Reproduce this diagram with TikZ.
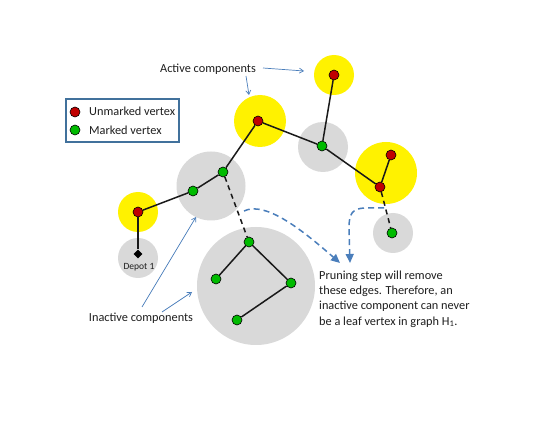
\documentclass[tikz,border=0pt]{standalone}
\usepackage{fontspec}
\setmainfont{Carlito}
\usetikzlibrary{arrows.meta,shapes.geometric}
\definecolor{vred}{HTML}{C00000}
\definecolor{vgreen}{HTML}{00BB00}
\definecolor{compgray}{HTML}{D9D9D9}
\definecolor{callblue}{HTML}{4A7EBB}
\definecolor{legframe}{HTML}{41719C}
\definecolor{txt}{HTML}{1E1E1E}
\begin{document}
\begin{tikzpicture}[x=1pt,y=-1pt,
 active/.style={circle,fill=yellow,inner sep=0,minimum size=#1},
 inactive/.style={circle,fill=compgray,inner sep=0,minimum size=#1},
 unm/.style={circle,draw=black,line width=0.6pt,fill=vred,inner sep=0,minimum size=10pt},
 mkd/.style={circle,draw=black,line width=0.6pt,fill=vgreen,inner sep=0,minimum size=10pt},
 edgeline/.style={line width=1.5pt,black!90},
 cutline/.style={edgeline,dash pattern=on 5pt off 4pt},
 prune/.style={line width=1.5pt,callblue,dash pattern=on 6pt off 4pt,-{Triangle[length=9pt,width=8pt]}},
 callout/.style={line width=0.7pt,callblue,-{Straight Barb[length=4pt,width=5pt]}},
 lbl/.style={font=\fontsize{12.3}{15.3}\selectfont,text=txt,inner sep=0}
]
\useasboundingbox[fill=white] (0,0) rectangle (550,425);

% components
\node[active=40pt] (A1) at (334,75) {};
\node[active=52pt] (A2) at (260,121) {};
\node[active=62pt] (A3) at (386,173) {};
\node[active=40pt] (A4) at (138,212) {};
\node[inactive=69pt] (I1) at (211,186) {};
\node[inactive=50pt] (I2) at (323,147) {};
\node[inactive=40pt] (I3) at (393,233) {};
\node[inactive=40pt] (I4) at (138,258) {};
\node[inactive=118pt] (I5) at (256,286) {};

% vertices
\node[unm] (u1) at (334,75) {};
\node[unm] (u2) at (258,121) {};
\node[unm] (u3) at (391,155) {};
\node[unm] (u4) at (380,187) {};
\node[unm] (u5) at (138,212) {};
\node[mkd] (m1) at (322,146) {};
\node[mkd] (m2) at (223,172) {};
\node[mkd] (m3) at (193,191) {};
\node[mkd] (m4) at (392,233) {};
\node[mkd] (m5) at (249,242) {};
\node[mkd] (m6) at (216,279) {};
\node[mkd] (m7) at (291,283) {};
\node[mkd] (m8) at (237,320) {};
\node[diamond,fill=black,inner sep=0,minimum size=9pt] (dep) at (138,254) {};
\node[font=\fontsize{9.5}{11}\selectfont,text=txt,inner sep=0] (deplbl) at (139,267) {Depot 1};

% edges
\draw[edgeline] (u1) -- (m1);
\draw[edgeline] (u2) -- (m1);
\draw[edgeline] (m1) -- (u4);
\draw[edgeline] (u4) -- (u3);
\draw[edgeline] (u2) -- (m2);
\draw[edgeline] (m2) -- (m3);
\draw[edgeline] (m3) -- (u5);
\draw[edgeline] (u5) -- (dep);
\draw[edgeline] (m5) -- (m6);
\draw[edgeline] (m5) -- (m7);
\draw[edgeline] (m7) -- (m8);
\draw[cutline] (m2) -- (m5);
\draw[cutline] (u4) -- (m4);

% legend
\node[draw=legframe,line width=1.2pt,minimum width=113pt,minimum height=43pt,inner sep=0] (leg) at (122.5,120.5) {};
\node[unm] (legu) at (75,112) {};
\node[mkd] (legm) at (75,130) {};
\node[lbl,anchor=west] (legut) at (89,111) {Unmarked vertex};
\node[lbl,anchor=west] (legmt) at (89,130) {Marked vertex};

% labels
\node[lbl] (actlbl) at (208,69) {Active components};
\coordinate (ac1s) at (263,68);
\coordinate (ac1e) at (304,71);
\coordinate (ac2s) at (246,76);
\coordinate (ac2e) at (249,95);
\draw[callout] (ac1s) -- (ac1e);
\draw[callout] (ac2s) -- (ac2e);

\node[lbl] (inlbl) at (141,318) {Inactive components};
\coordinate (ic1s) at (142,307);
\coordinate (ic1e) at (196,217);
\coordinate (ic2s) at (162,312);
\coordinate (ic2e) at (192,292);
\draw[callout] (ic1s) -- (ic1e);
\draw[callout] (ic2s) -- (ic2e);

\node[lbl,anchor=north west,align=left] (note) at (319,270.5) {Pruning step will remove\\these edges. Therefore, an\\inactive component can never\\be a leaf vertex in graph H\textsubscript{1}.};

% pruning arrows
\coordinate (p1s) at (244,211);
\coordinate (p1e) at (340,263);
\draw[prune] (p1s) .. controls (265,201) and (300,228) .. (p1e);
\coordinate (p2s) at (384,208);
\coordinate (p2e) at (350,263);
\draw[prune] (p2s) -- (366,208) .. controls (352,208) and (349,214) .. (349,228) -- (p2e);
\end{tikzpicture}
\end{document}
